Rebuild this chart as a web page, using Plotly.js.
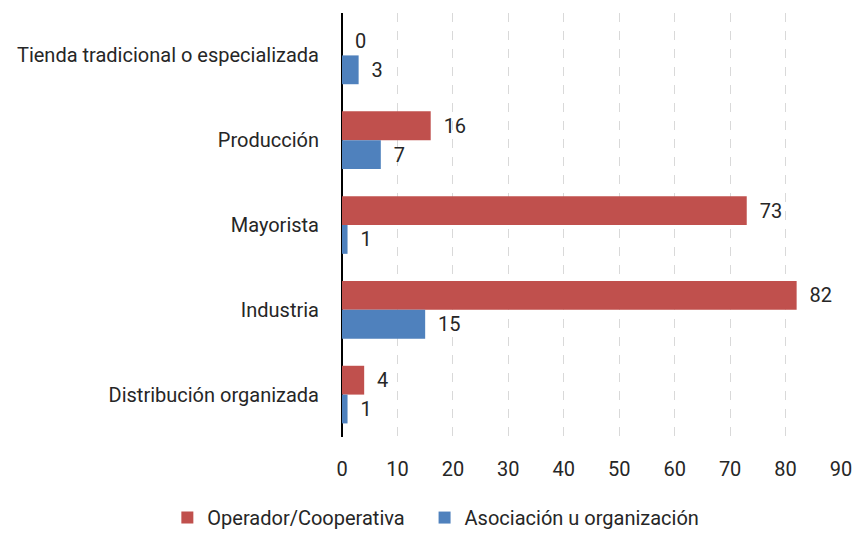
<!DOCTYPE html>
<html>
<head>
<meta charset="utf-8">
<script src="https://cdn.plot.ly/plotly-3.0.1.min.js"></script>
<style>
  html, body { margin: 0; padding: 0; background: #fff; }
  #chart { width: 856px; height: 534px; }
</style>
</head>
<body>
<div id="chart"></div>
<script>
// Canales de venta, de arriba abajo
const categories = [
  "Tienda tradicional o especializada",
  "Producción",
  "Mayorista",
  "Industria",
  "Distribución organizada"
];
const operadorValues = [0, 16, 73, 82, 4];
const asociacionValues = [3, 7, 1, 15, 1];
const seriesNames = ["Operador/Cooperativa", "Asociación u organización"];
const xTicks = [0, 10, 20, 30, 40, 50, 60, 70, 80, 90];

const FONT = "'Roboto', sans-serif";
const FS = 20;
const TEXT_COLOR = "#262626";
// extra room after a legend entry so the two entries sit further apart
const LEGEND_PAD = "\u00a0\u00a0\u00a0";

function barTrace(name, values, color, pad) {
  return {
    type: "bar",
    orientation: "h",
    name: name + pad,
    y: categories,
    x: values,
    marker: { color: color, line: { width: 0 } },
    text: values.map(v => "\u00a0\u00a0" + v),
    textposition: "outside",
    cliponaxis: false,
    textfont: { family: FONT, size: FS, color: TEXT_COLOR },
    hoverinfo: "x+name"
  };
}

const data = [
  barTrace(seriesNames[0], operadorValues, "#C0504D", LEGEND_PAD),
  barTrace(seriesNames[1], asociacionValues, "#4F81BD", "")
];

const layout = {
  width: 856,
  height: 534,
  margin: { l: 342, r: 15, t: 13, b: 97, autoexpand: false },
  paper_bgcolor: "#ffffff",
  plot_bgcolor: "#ffffff",
  font: { family: FONT, size: FS, color: TEXT_COLOR },
  barmode: "group",
  bargap: 0.32,
  bargroupgap: 0,
  showlegend: true,
  legend: {
    orientation: "h",
    x: -0.35, xanchor: "left",
    y: -0.19, yanchor: "middle",
    font: { family: FONT, size: FS, color: TEXT_COLOR },
    itemwidth: 30,
    traceorder: "normal"
  },
  xaxis: {
    range: [0, 90],
    tickvals: xTicks,
    ticktext: xTicks.map(String),
    showgrid: true,
    gridcolor: "#d9d9d9",
    griddash: "dash",
    gridwidth: 1,
    zeroline: true,
    zerolinecolor: "#000000",
    zerolinewidth: 1.5,
    showline: false,
    ticks: "outside",
    ticklen: 14,
    tickcolor: "rgba(0,0,0,0)",
    tickfont: { family: FONT, size: FS, color: TEXT_COLOR },
    fixedrange: true
  },
  yaxis: {
    type: "category",
    autorange: "reversed",
    showgrid: false,
    zeroline: false,
    showline: false,
    ticks: "outside",
    ticklen: 18,
    tickcolor: "rgba(0,0,0,0)",
    tickfont: { family: FONT, size: FS, color: TEXT_COLOR },
    fixedrange: true
  }
};

Plotly.newPlot("chart", data, layout, { displayModeBar: false, staticPlot: true });
</script>
</body>
</html>
